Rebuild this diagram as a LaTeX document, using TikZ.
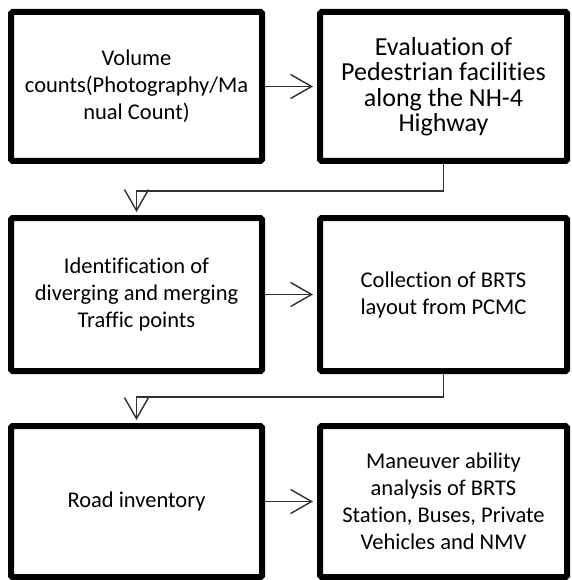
\documentclass[tikz,border=0pt]{standalone}
\usepackage{fontspec}
\setmainfont{Carlito}[Ligatures=NoCommon]
\usetikzlibrary{arrows.meta}
\tikzset{
  box/.style={draw=black, line width=6pt, rounded corners=1.5pt, rectangle,
    minimum width=251pt, align=center, inner sep=0pt,
    font=\fontsize{22.5}{27}\selectfont},
  bigtext/.style={font=\fontsize{26}{25.5}\selectfont},
  conn/.style={draw=black!80, line width=1.4pt,
    -{Straight Barb[length=21pt,width=24pt,line width=1.4pt]}},
}
\begin{document}
\begin{tikzpicture}[x=1pt,y=-1pt]
\useasboundingbox[fill=white] (0,0) rectangle (571,580);
% row 1
\node[box, minimum height=149pt] (a) at (136.5,86.5) {Volume\\counts(Photography/Ma\\nual Count)};
\node[box, bigtext, minimum width=247pt, minimum height=149pt] (b) at (443.5,86.5) {Evaluation of\\Pedestrian facilities\\along the NH-4\\Highway};
% row 2
\node[box, minimum height=153pt] (c) at (136.5,294.5) {Identification of\\diverging and merging\\Traffic points};
\node[box, minimum width=247pt, minimum height=153pt] (d) at (443.5,294.5) {Collection of BRTS\\layout from PCMC};
% row 3
\node[box, minimum height=151pt] (e) at (136.5,501.5) {Road inventory};
\node[box, minimum width=247pt, minimum height=151pt] (f) at (443.5,501.5) {Maneuver ability\\analysis of BRTS\\Station, Buses, Private\\Vehicles and NMV};
% connectors
\draw[conn, shorten >=4pt] (a.east) -- (b.west);
\draw[conn, shorten >=4pt] (c.east) -- (d.west);
\draw[conn, shorten >=4pt] (e.east) -- (f.west);
\draw[conn, shorten >=3pt] (b.south) -- ++(0,27) -| (c.north);
\draw[conn, shorten >=3pt] (d.south) -- ++(0,23) -| (e.north);
\end{tikzpicture}
\end{document}
